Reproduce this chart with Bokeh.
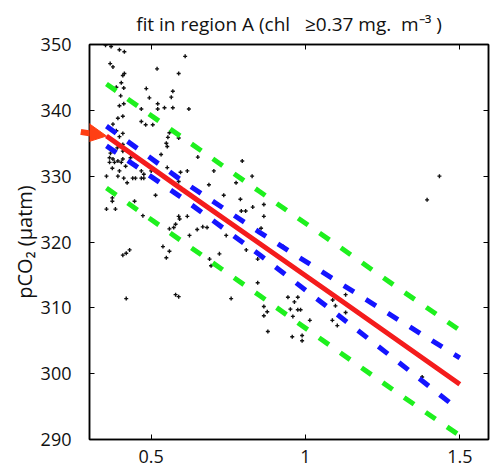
from bokeh.plotting import figure
from bokeh.models import (Range1d, LinearAxis, FixedTicker, Arrow, NormalHead,
                          ColumnDataSource)
from bokeh.embed import file_html
from bokeh.resources import INLINE

# ---------------- data ----------------
chl = [0.352, 0.370, 0.397, 0.413, 0.610, 0.367, 0.376, 0.519, 0.589, 0.408,
       0.413, 0.403, 0.387, 0.411, 0.484, 0.570, 0.401, 0.494, 0.565, 0.411,
       0.521, 0.397, 0.468, 0.543, 0.570, 0.521, 0.622, 0.408, 0.392, 0.468,
       0.482, 0.505, 0.559, 0.376, 0.387, 0.408, 0.397, 0.554, 0.549, 0.408,
       0.390, 0.532, 0.408, 0.365, 0.376, 0.392, 0.408, 0.365, 0.381, 0.403,
       0.451, 0.651, 0.397, 0.468, 0.500, 0.355, 0.374, 0.374, 0.355, 0.384,
       0.411, 0.422, 0.449, 0.476, 0.476, 0.514, 0.552, 0.595, 0.589, 0.617,
       0.687, 0.703, 0.735, 0.795, 0.827, 0.789, 0.865, 0.806, 0.865, 0.589,
       0.617, 0.681, 0.649, 0.573, 0.417, 0.368, 0.374, 0.433, 0.552, 0.589,
       0.392, 0.440, 0.468, 0.446, 0.473, 0.592, 0.579, 0.559, 0.624, 0.538,
       0.559, 0.549, 0.430, 0.419, 0.408, 0.667, 0.689, 0.694, 0.721, 0.419,
       0.579, 0.589, 0.775, 0.829, 0.792, 0.856, 0.743, 0.808, 0.845, 0.926,
       0.845, 0.759, 0.943, 0.975, 0.964, 1.088, 0.951, 0.984, 0.865, 0.876,
       0.865, 0.878, 0.957, 0.989, 0.989, 1.014, 1.087, 1.103, 1.130, 1.097,
       1.130, 1.378, 0.959, 0.975, 1.434, 1.394]
pco2 = [349.9, 349.7, 349.2, 348.9, 348.2, 347.1, 346.6, 346.3, 345.6, 345.3,
        345.6, 344.2, 343.5, 343.4, 343.3, 342.9, 342.2, 341.9, 342.0, 341.0,
        341.0, 340.7, 340.2, 340.4, 340.4, 340.2, 340.2, 339.1, 338.8, 338.3,
        337.8, 337.8, 336.6, 337.9, 336.9, 336.5, 336.0, 335.9, 335.0, 334.8,
        334.3, 333.3, 333.8, 332.8, 332.6, 332.3, 332.6, 332.1, 332.1, 332.1,
        331.6, 332.9, 330.8, 330.8, 330.8, 330.0, 326.7, 326.2, 325.0, 325.0,
        329.7, 329.0, 329.7, 329.7, 330.3, 327.1, 331.3, 330.6, 329.2, 330.8,
        328.7, 330.8, 327.1, 332.3, 330.0, 326.5, 325.7, 324.7, 323.9, 323.9,
        323.9, 322.2, 321.9, 322.2, 331.5, 333.5, 331.2, 332.8, 334.5, 335.8,
        330.0, 329.7, 329.7, 326.2, 324.0, 323.5, 322.7, 322.0, 321.0, 319.3,
        318.6, 317.6, 318.8, 318.3, 318.0, 322.3, 317.4, 316.4, 318.2, 311.4,
        312.0, 311.7, 329.0, 325.3, 324.7, 322.1, 321.0, 318.8, 317.4, 319.4,
        313.8, 311.4, 311.6, 311.6, 310.9, 311.2, 309.8, 309.7, 310.2, 309.4,
        308.8, 306.4, 305.6, 305.8, 305.0, 308.1, 308.1, 307.3, 309.3, 310.3,
        312.0, 299.5, 308.7, 309.7, 330.0, 326.4]

band_x = [0.355, 0.60, 0.85, 1.10, 1.30, 1.50]
fit_y = [336.1, 328.0, 319.8, 311.6, 305.0, 298.4]
conf_upper = [337.6, 329.3, 321.5, 314.1, 308.2, 302.4]
conf_lower = [334.6, 326.7, 318.1, 309.1, 301.8, 294.4]
pred_upper = [344.0, 335.9, 327.7, 319.6, 313.0, 306.6]
pred_lower = [328.2, 320.1, 311.9, 303.6, 297.0, 290.6]

x_ticks = [0.5, 1.0, 1.5]
x_tick_labels = ["0.5", "1", "1.5"]
y_ticks = [290, 300, 310, 320, 330, 340, 350]

title_text = "fit in region A (chl\u00a0\u00a0\u00a0\u22650.37 mg.\u00a0 m\u207b\u00b3\u00a0)"
y_label = "pCO\u2082 (\u00b5atm)"

# ---------------- layout / styling ----------------
FONT = "Open Sans"
RED = "#f41c1c"
BLUE = "#1414ff"
GREEN = "#1ef01e"
ARROW = "#ff3f14"

X0, X1 = 0.30, 1.593
Y0, Y1 = 290, 350
W, H = 501, 476
ML, MR, MT, MB = 89, 13, 43, 37
FW, FH = W - ML - MR, H - MT - MB
px_x = (X1 - X0) / FW   # data units per pixel
px_y = (Y1 - Y0) / FH

p = figure(width=W, height=H, output_backend="svg", toolbar_location=None,
           x_range=Range1d(X0, X1), y_range=Range1d(Y0, Y1),
           min_border_left=ML, min_border_right=MR, min_border_top=MT,
           min_border_bottom=MB, background_fill_color="white",
           border_fill_color="white")

p.grid.visible = False
p.outline_line_color = "black"
p.outline_line_width = 1.5

# title
p.title.text = title_text
p.title.text_font = FONT
p.title.text_font_size = "19px"
p.title.text_font_style = "normal"
p.title.align = "center"
p.title.offset = 8
p.title.standoff = 16
p.title.text_color = "#111111"

# axes
xa = p.xaxis[0]
ya = p.yaxis[0]
for ax in (xa, ya):
    ax.major_tick_in = 5
    ax.major_tick_out = 0
    ax.minor_tick_line_color = None
    ax.axis_line_width = 1.5
    ax.major_label_text_font = FONT
    ax.major_label_text_font_size = "18px"
    ax.major_label_text_color = "#111111"
xa.ticker = FixedTicker(ticks=x_ticks)
xa.major_label_overrides = {t: l for t, l in zip(x_ticks, x_tick_labels)}
xa.major_label_standoff = 10
ya.ticker = FixedTicker(ticks=y_ticks)
ya.major_label_standoff = 18
ya.axis_label = y_label
ya.axis_label_text_font = FONT
ya.axis_label_text_font_size = "20px"
ya.axis_label_text_font_style = "normal"
ya.axis_label_text_color = "#111111"
ya.axis_label_standoff = 0

for side, tick_list in (("right", y_ticks), ("above", x_ticks)):
    ax = LinearAxis(ticker=FixedTicker(ticks=tick_list))
    ax.major_tick_in = 5
    ax.major_tick_out = 0
    ax.minor_tick_line_color = None
    ax.major_label_text_font_size = "1px"
    ax.major_label_text_color = None
    ax.major_label_standoff = 0
    ax.axis_line_width = 1.5
    p.add_layout(ax, side)

# data points
src = ColumnDataSource(data=dict(x=chl, y=pco2))
p.scatter("x", "y", source=src, marker="cross", size=4, line_width=1.4,
          line_color="#111111")

# prediction and confidence bands, fit
dash = "12 14"
p.line(band_x, pred_upper, line_color=GREEN, line_width=5, line_dash=dash)
p.line(band_x, pred_lower, line_color=GREEN, line_width=5, line_dash=dash)
p.line(band_x, conf_upper, line_color=BLUE, line_width=5, line_dash=dash)
p.line(band_x, conf_lower, line_color=BLUE, line_width=5, line_dash=dash)
p.line(band_x, fit_y, line_color=RED, line_width=5)

# pointer arrow from the left page edge to the start of the fit line
p.add_layout(Arrow(end=NormalHead(size=26, fill_color=ARROW, line_color=ARROW),
                   x_start=X0 - ML * px_x, y_start=Y1 - (118 - MT) * px_y,
                   x_end=band_x[0], y_end=fit_y[0],
                   line_color=ARROW, line_width=6))

# edge of the neighbouring panel at the left page border
p.add_layout(Arrow(end=None,
                   x_start=X0 - (ML - 1) * px_x, y_start=Y1 - (56 - MT) * px_y,
                   x_end=X0 - (ML - 1) * px_x, y_end=Y1 - (346 - MT) * px_y,
                   line_color="#55ee55", line_width=2))

open("out.html", "w").write(file_html(p, INLINE))
